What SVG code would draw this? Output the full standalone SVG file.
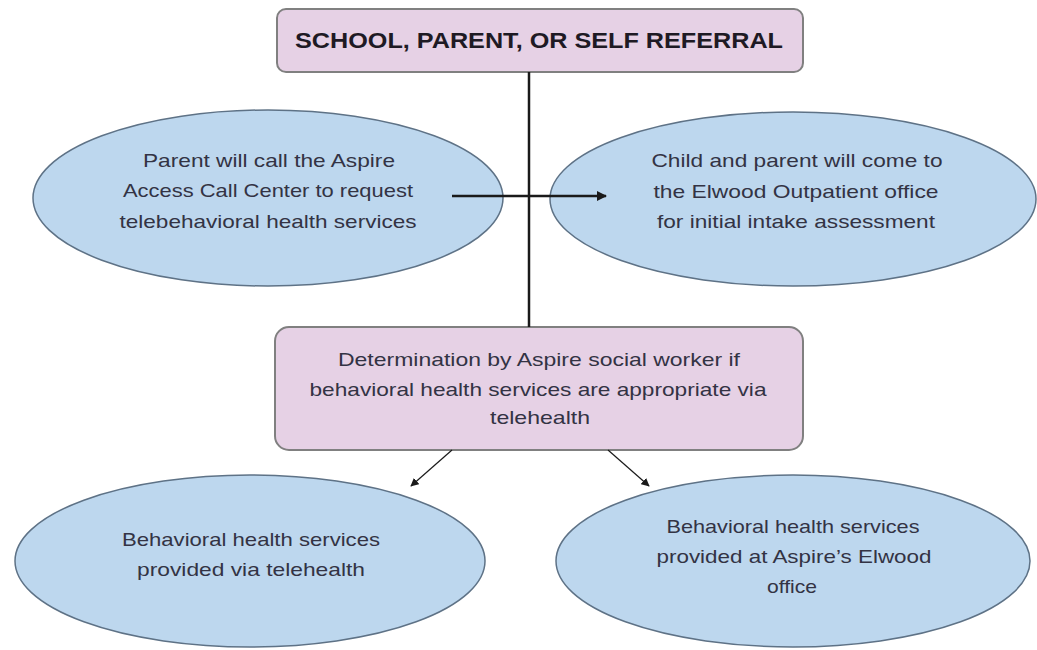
<svg xmlns="http://www.w3.org/2000/svg" width="1037" height="650" viewBox="0 0 1037 650">
<defs>
<style>
.pink{fill:#E6D1E5;stroke:#808080;stroke-width:2}
.blue{fill:#BDD7EE;stroke:#5E7286;stroke-width:1.5}
.t{font-family:"Liberation Sans",Arial,sans-serif;font-size:19px;text-anchor:middle;fill:#333344}
.tb{font-family:"Liberation Sans",Arial,sans-serif;font-size:22px;font-weight:bold;text-anchor:middle;fill:#1E1A24}
.ln{stroke:#1A1A1A;fill:none}
</style>
<marker id="ah" viewBox="0 0 10 10" refX="9" refY="5" markerWidth="4" markerHeight="4" orient="auto"><path d="M0,0 L10,5 L0,10 z" fill="#1A1A1A"/></marker>
<marker id="ahs" viewBox="0 0 10 10" refX="9" refY="5" markerWidth="7" markerHeight="7" orient="auto"><path d="M0,0 L10,5 L0,10 z" fill="#1A1A1A"/></marker>
</defs>
<rect width="1037" height="650" fill="#FFFFFF"/>
<g id="referral">
<rect class="pink" x="277" y="9" width="526" height="63" rx="9"/>
<text class="tb" x="539" y="48" textLength="488" lengthAdjust="spacingAndGlyphs">SCHOOL, PARENT, OR SELF REFERRAL</text>
</g>
<g id="call-center">
<ellipse class="blue" cx="268" cy="198" rx="235" ry="88"/>
<text class="t" x="269" y="167" textLength="252" lengthAdjust="spacingAndGlyphs">Parent will call the Aspire</text>
<text class="t" x="268" y="197" textLength="290" lengthAdjust="spacingAndGlyphs">Access Call Center to request</text>
<text class="t" x="268" y="228" textLength="297" lengthAdjust="spacingAndGlyphs">telebehavioral health services</text>
</g>
<g id="elwood-intake">
<ellipse class="blue" cx="793" cy="199" rx="243" ry="87"/>
<text class="t" x="797" y="167" textLength="291" lengthAdjust="spacingAndGlyphs">Child and parent will come to</text>
<text class="t" x="796" y="198" textLength="285" lengthAdjust="spacingAndGlyphs">the Elwood Outpatient office</text>
<text class="t" x="796" y="228" textLength="278" lengthAdjust="spacingAndGlyphs">for initial intake assessment</text>
</g>
<g id="determination">
<rect class="pink" x="275" y="327" width="528" height="123" rx="14"/>
<text class="t" x="539" y="366" textLength="402" lengthAdjust="spacingAndGlyphs">Determination by Aspire social worker if</text>
<text class="t" x="538" y="396" textLength="457" lengthAdjust="spacingAndGlyphs">behavioral health services are appropriate via</text>
<text class="t" x="540" y="424" textLength="100" lengthAdjust="spacingAndGlyphs">telehealth</text>
</g>
<g id="telehealth">
<ellipse class="blue" cx="250" cy="561" rx="235" ry="86"/>
<text class="t" x="251" y="546" textLength="258" lengthAdjust="spacingAndGlyphs">Behavioral health services</text>
<text class="t" x="251" y="576" textLength="228" lengthAdjust="spacingAndGlyphs">provided via telehealth</text>
</g>
<g id="elwood-office">
<ellipse class="blue" cx="793" cy="561" rx="237" ry="86"/>
<text class="t" x="793" y="533" textLength="253" lengthAdjust="spacingAndGlyphs">Behavioral health services</text>
<text class="t" x="794" y="563" textLength="275" lengthAdjust="spacingAndGlyphs">provided at Aspire’s Elwood</text>
<text class="t" x="792" y="593" textLength="50" lengthAdjust="spacingAndGlyphs">office</text>
</g>
<g id="connectors">
<line class="ln" x1="529" y1="72" x2="529" y2="327" stroke-width="2.5"/>
<line class="ln" x1="452" y1="196" x2="606" y2="196" stroke-width="2.5" marker-end="url(#ah)"/>
<line class="ln" x1="452" y1="450" x2="411" y2="486" stroke-width="1.2" marker-end="url(#ahs)"/>
<line class="ln" x1="608" y1="450" x2="649" y2="486" stroke-width="1.2" marker-end="url(#ahs)"/>
</g>
</svg>
